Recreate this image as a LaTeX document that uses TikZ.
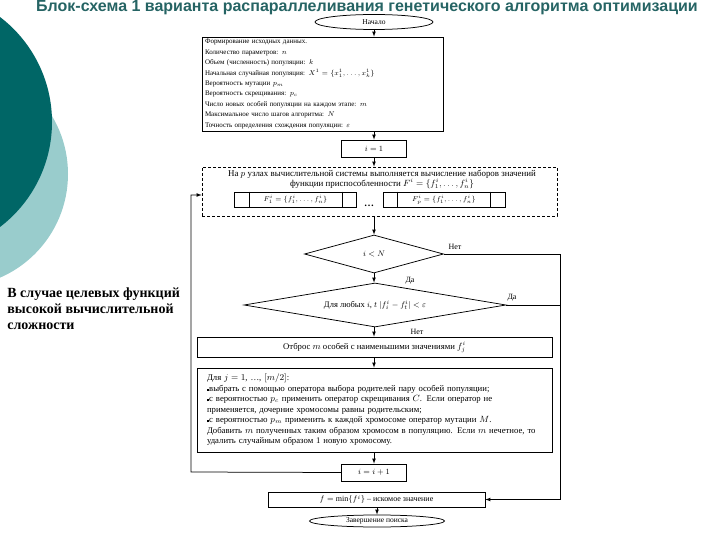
\documentclass[tikz,border=0pt]{standalone}
\usepackage{amsmath}
\usepackage{fontspec}
\setmainfont{Liberation Serif}
\newfontfamily\titlefont{Liberation Sans}
\definecolor{SlideTeal}{RGB}{0,102,102}
\definecolor{SlideLightTeal}{RGB}{153,204,204}
\definecolor{TitleTeal}{RGB}{38,100,100}
\newcommand{\sqitem}{\rule[0.6pt]{2.2pt}{2.2pt}}
\usetikzlibrary{shapes.geometric,arrows,positioning,calc}

\begin{document}
\begin{tikzpicture}[
    x=1pt, y=-1pt,
    line width=0.75pt,
    box/.style={rectangle, draw, inner xsep=3pt, inner ysep=0pt,
                font=\fontsize{8.7}{10.5}\selectfont},
    term/.style={ellipse, draw, inner sep=0pt, font=\fontsize{7.5}{9}\selectfont},
    decision/.style={diamond, draw, inner sep=0pt, font=\fontsize{8.5}{10}\selectfont},
    subproc/.style={rectangle, draw, minimum width=122, minimum height=15,
                inner sep=0pt, font=\fontsize{7.5}{9}\selectfont},
    lbl/.style={inner sep=1pt, font=\fontsize{8}{10}\selectfont},
    arrow/.style={-latex}
]
\useasboundingbox (0,0) rectangle (720,540);

% background circles of the slide
\begin{scope}
\clip (0,0) rectangle (720,540);
\fill[SlideLightTeal] (-45,174) circle[radius=113pt];
\fill[SlideTeal] (-80,122) circle[radius=132pt];
\end{scope}

\node[font=\titlefont\bfseries\fontsize{16}{19}\selectfont, text=TitleTeal] (title) at (367,8)
  {Блок-схема 1 варианта распараллеливания генетического алгоритма оптимизации};

\node[anchor=north west, align=left, inner sep=0pt,
      font=\bfseries\fontsize{14}{16}\selectfont] (note) at (7,287)
  {В случае целевых функций\\ высокой вычислительной\\ сложности};

\node[term, minimum width=118, minimum height=15] (start) at (374,22) {Начало};

\node[box, text width=235, minimum height=94, align=left,
      font=\fontsize{7}{10.4}\selectfont] (init) at (322.5,84) {%
Формирование исходных данных.\\
Количество параметров: $n$\\
Объем (численность) популяции: $k$\\
Начальная случайная популяция: $X^1=\{x_1^1,\dots,x_k^1\}$\\
Вероятность мутации $p_m$\\
Вероятность скрещивания: $p_c$\\
Число новых особей популяции на каждом этапе: $m$\\
Максимальное число шагов алгоритма: $N$\\
Точность определения схождения популяции: $\varepsilon$};

\node[box, minimum width=65, minimum height=17, font=\fontsize{8}{10}\selectfont] (initstep) at (374,148.5) {$i=1$};

\node[rectangle, draw, dash pattern=on 3pt off 2pt, minimum width=355, minimum height=49,
      inner sep=0pt] (par) at (379.5,191.5) {};
\node[align=center, inner sep=0pt, font=\fontsize{8.9}{10.2}\selectfont] (partext) at (382,179.5)
  {На $p$ узлах вычислительной системы выполняется вычисление наборов значений\\
   функции приспособленности $F^i=\{f_1^i,\dots,f_n^i\}$};

\node[subproc] (procA) at (295.5,199.5) {$F^i_1=\{f_1^i,\dots,f_n^i\}$};
\node[subproc] (procP) at (444,199.5) {$F^i_p=\{f_1^i,\dots,f_n^i\}$};
\node[font=\bfseries\fontsize{10}{12}\selectfont, inner sep=0pt] (dots) at (369,206) {\ldots};
\foreach \p in {procA,procP} {
  \draw ([xshift=15]\p.north west) -- ([xshift=15]\p.south west);
  \draw ([xshift=-15]\p.north east) -- ([xshift=-15]\p.south east);
}

\node[decision, aspect=3.66, minimum width=139, minimum height=38] (cond) at (374,254) {$i<N$};
\node[decision, aspect=5.95, minimum width=262, minimum height=44] (conv) at (375,305)
  {Для любых $i$, $t$ $|f_i^i-f_t^i|<\varepsilon$};

\node[box, minimum width=355, minimum height=20] (select) at (374.5,347)
  {Отброс $m$ особей с наименьшими значениями $f_j^i$};

\node[box, text width=335, inner xsep=10pt, minimum height=84, align=left] (breed) at (374.5,410) {%
Для $j=1$, \dots, $[m/2]$:\\
\sqitem выбрать с помощью оператора выбора родителей пару особей популяции;\\
\sqitem с вероятностью $p_c$ применить оператор скрещивания $C$. Если оператор не\\
применяется, дочерние хромосомы равны родительским;\\
\sqitem с вероятностью $p_m$ применить к каждой хромосоме оператор мутации $M$.\\
Добавить $m$ полученных таким образом хромосом в популяцию. Если $m$ нечетное, то\\
удалить случайным образом 1 новую хромосому.};

\node[box, minimum width=65, minimum height=17, font=\fontsize{8}{10}\selectfont] (incr) at (374,472.5) {$i=i+1$};
\node[box, minimum width=217, minimum height=15, font=\fontsize{8}{10}\selectfont] (result) at (376.5,499.5)
  {$f=\min\{f^i\}$ -- искомое значение};
\node[term, minimum width=135, minimum height=12] (finish) at (377,521) {Завершение поиска};

\node[lbl] (noA) at (455,247) {Нет};
\node[lbl] (yesA) at (410,281) {Да};
\node[lbl] (yesB) at (512,298) {Да};
\node[lbl] (noB) at (417,332) {Нет};

\coordinate (backturn) at (191,472);
\coordinate (rail) at (560,254);

\draw[arrow] (start) -- (start |- init.north);
\draw[arrow] (initstep |- init.south) -- (initstep);
\draw[arrow] (initstep) -- (initstep |- par.north);
\draw[arrow] (cond |- par.south) -- (cond);
\draw[arrow] (cond) -- (cond |- conv.north);
\draw[arrow] (cond |- conv.south) -- (cond |- select.north);
\draw[arrow] (cond |- select.south) -- (cond |- breed.north);
\draw[arrow] (incr |- breed.south) -- (incr);
\draw[arrow] (incr.west) -- (backturn) |- ([yshift=-3.5pt]par.west);
\draw[arrow] (cond.east) -- (rail) |- (result.east);
\draw (conv.east) -- (conv.east -| rail);
\draw[arrow] (finish |- result.south) -- (finish);

\end{tikzpicture}
\end{document}
